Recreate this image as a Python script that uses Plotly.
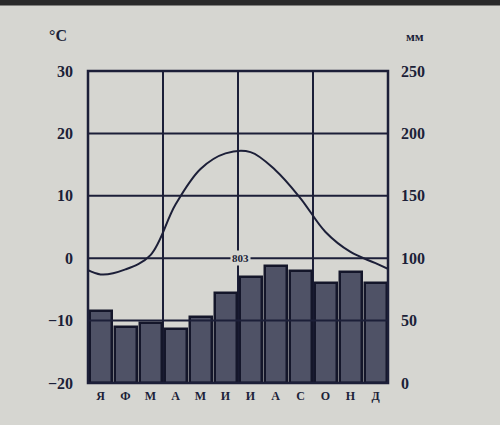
import plotly.graph_objects as go

months = ["Я", "Ф", "М", "А", "М", "И", "И", "А", "С", "О", "Н", "Д"]
temperature = [-2.6, -1.8, 0.5, 8.6, 14.3, 16.8, 17.0, 14.1, 9.6, 4.2, 1.0, -0.8]
precipitation = [58, 45, 48, 43, 53, 72, 85, 94, 90, 80, 89, 80]
annual_total = "803"
temp_ticks = [30, 20, 10, 0, -10, -20]
prec_ticks = [250, 200, 150, 100, 50, 0]

INK = "#1c1f38"
BG = "#d6d6d1"
FONT = "Liberation Serif"

xc = [i + 0.5 for i in range(12)]
# wrap the year so the curve reaches both edges
tx = [-0.5] + xc + [12.5]
ty = [temperature[-1]] + temperature + [temperature[0]]

fig = go.Figure()
fig.add_trace(go.Bar(
    x=xc, y=precipitation, yaxis="y2", width=0.88,
    marker=dict(color="#4f5266", line=dict(color="#14162a", width=2.5)),
    showlegend=False,
))
fig.add_trace(go.Scatter(
    x=tx, y=ty, mode="lines", line=dict(color=INK, width=2, shape="spline", smoothing=1.0),
    showlegend=False, cliponaxis=True,
))

shapes = []
for v in [20, 10, 0, -10]:
    shapes.append(dict(type="line", xref="paper", x0=0, x1=1, yref="y", y0=v, y1=v,
                       line=dict(color=INK, width=2), layer="above"))
shapes.append(dict(type="rect", xref="paper", yref="paper", x0=0, x1=1, y0=0, y1=1,
                   line=dict(color=INK, width=2.5), layer="above"))
shapes.append(dict(type="rect", xref="paper", yref="paper", x0=-0.3, x1=1.4, y0=1.21, y1=1.3,
                   line=dict(width=0), fillcolor="#2a2a2a", layer="below"))

fig.update_layout(
    width=500, height=425,
    margin=dict(l=88, r=112, t=71, b=42),
    paper_bgcolor=BG, plot_bgcolor=BG,
    bargap=0,
    font=dict(family=FONT, color=INK, size=16),
    xaxis=dict(range=[0, 12], tickmode="array", tickvals=xc, ticktext=months,
               showgrid=False, zeroline=False, showline=False, ticks="",
               ticklabelstandoff=4,
               tickfont=dict(size=12, family=FONT, weight="bold"),
               minor=dict(tickvals=[3, 6, 9], showgrid=True, gridcolor=INK, gridwidth=2)),
    yaxis=dict(range=[-20, 30], tickvals=temp_ticks, showgrid=False, zeroline=False,
               ticks="", showline=False, ticklabelstandoff=14,
               tickfont=dict(size=16, family=FONT, weight="bold")),
    yaxis2=dict(range=[0, 250], tickvals=prec_ticks, overlaying="y", side="right",
                showgrid=False, zeroline=False, ticks="", showline=False, ticklabelstandoff=12,
                tickfont=dict(size=16, family=FONT, weight="bold")),
    shapes=shapes,
    annotations=[
        dict(text="°C", xref="paper", yref="paper", x=-0.10, y=1.115, showarrow=False,
             xanchor="center", yanchor="middle", font=dict(size=16, family=FONT, weight="bold")),
        dict(text="мм", xref="paper", yref="paper", x=1.09, y=1.11, showarrow=False,
             xanchor="center", yanchor="middle", font=dict(size=13, family=FONT, weight="bold")),
        dict(text=annual_total, x=6.1, y=0, xref="x", yref="y", showarrow=False,
             bgcolor=BG, font=dict(size=11, family=FONT, weight="bold")),
    ],
)

fig.write_html("out.html", config={"displayModeBar": False},
               post_script="document.body.style.margin='0';")
